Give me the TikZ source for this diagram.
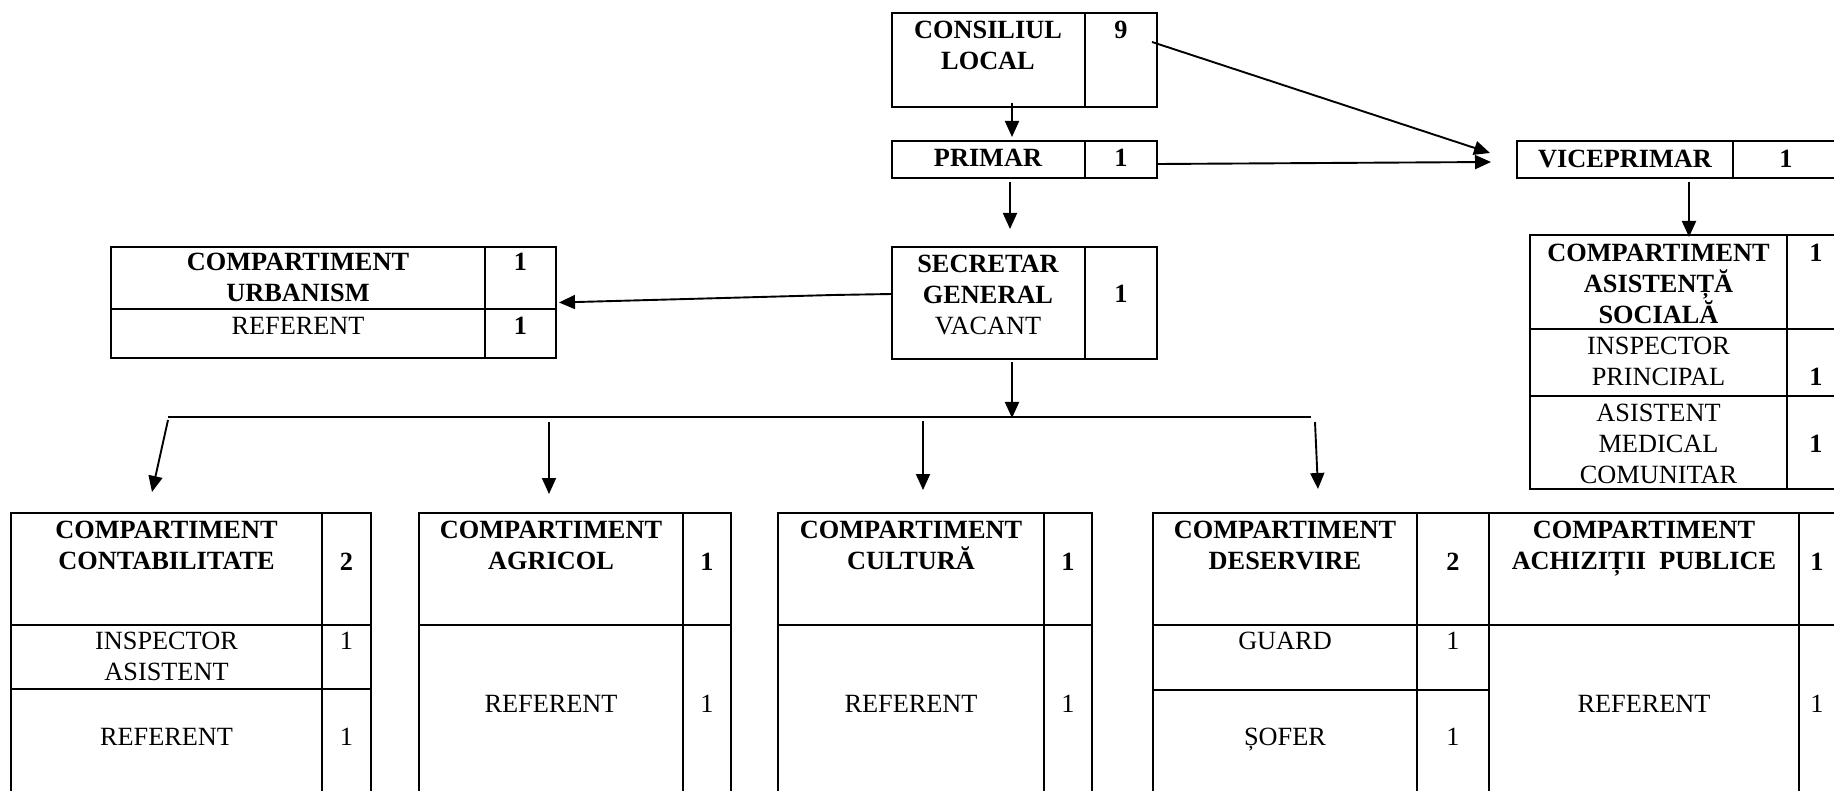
\documentclass[tikz,border=0pt]{standalone}
\usepackage{fontspec}
\setmainfont{Liberation Serif}
\usetikzlibrary{arrows.meta,calc}
\tikzset{
 box/.style={draw, line width=2.1pt, rectangle, anchor=north west, inner sep=0pt, outer sep=0pt},
 hd/.style={font=\fontsize{26.3pt}{30.8pt}\selectfont\bfseries, align=center, inner sep=0pt, anchor=north},
 tx/.style={font=\fontsize{26.3pt}{30.8pt}\selectfont, align=center, inner sep=0pt, anchor=north},
 arr/.style={line width=1.9pt, -{Triangle[length=16pt,width=14pt]}},
 sep/.style={line width=2.1pt},
 busline/.style={line width=1.4pt},
}
\begin{document}
\begin{tikzpicture}[x=1pt,y=-1pt]
\useasboundingbox (0,0) rectangle (1834,791);
\clip (0,0) rectangle (1834,791);

% ---------- boxes ----------
\node[box, minimum width=265pt, minimum height=94pt]  (cons) at (892,13) {};
\node[box, minimum width=265pt, minimum height=37pt]  (prim) at (892,141) {};
\node[box, minimum width=265pt, minimum height=112pt] (secr) at (892,247) {};
\node[box, minimum width=445pt, minimum height=111pt] (urb)  at (111,247) {};
\node[box, minimum width=323pt, minimum height=37pt]  (vice) at (1517,141) {};
\node[box, minimum width=315pt, minimum height=254pt] (asis) at (1530,235) {};
\node[box, minimum width=360pt, minimum height=287pt] (cont) at (11,513) {};
\node[box, minimum width=312pt, minimum height=287pt] (agri) at (419,513) {};
\node[box, minimum width=314pt, minimum height=287pt] (cult) at (778,513) {};
\node[box, minimum width=336pt, minimum height=287pt] (dese) at (1153,513) {};
\node[box, minimum width=351pt, minimum height=287pt] (achi) at (1489,513) {};

% ---------- inner rules ----------
\draw[sep] (1085,13) -- (1085,107);
\draw[sep] (1085,141) -- (1085,178);
\draw[sep] (1085,247) -- (1085,359);
\draw[sep] (485,247) -- (485,358);
\draw[sep] (111,309) -- (556,309);
\draw[sep] (1733,141) -- (1733,178);
\draw[sep] (1787,235) -- (1787,489);
\draw[sep] (1530,329) -- (1845,329);
\draw[sep] (1530,396) -- (1845,396);
\draw[sep] (322,513) -- (322,800);
\draw[sep] (11,625) -- (371,625);
\draw[sep] (11,689) -- (371,689);
\draw[sep] (683,513) -- (683,800);
\draw[sep] (419,625) -- (731,625);
\draw[sep] (1044,513) -- (1044,800);
\draw[sep] (778,625) -- (1092,625);
\draw[sep] (1417,513) -- (1417,800);
\draw[sep] (1153,625) -- (1489,625);
\draw[sep] (1153,690) -- (1489,690);
\draw[sep] (1799,513) -- (1799,800);
\draw[sep] (1489,625) -- (1840,625);

% ---------- texts ----------
\node[hd] (consT) at (988,21) {CONSILIUL\\LOCAL};
\node[hd] (consN) at (1121,21) {9};
\node[hd] (primT) at (988,149) {PRIMAR};
\node[hd] (primN) at (1121,149) {1};
\node[hd] (secrT) at (988,255) {SECRETAR\\GENERAL\\{\mdseries VACANT}};
\node[hd] (secrN) at (1121,285) {1};
\node[hd] (urbT) at (298,253) {COMPARTIMENT\\URBANISM};
\node[hd] (urbN) at (520.5,253) {1};
\node[tx] (urbR) at (298,317) {REFERENT};
\node[hd] (urbRN) at (520.5,317) {1};
\node[hd] (viceT) at (1625,150) {VICEPRIMAR};
\node[hd] (viceN) at (1786,150) {1};
\node[hd] (asisT) at (1658.5,244) {COMPARTIMENT\\ASISTENȚĂ\\SOCIALĂ};
\node[hd] (asisN) at (1816,244) {1};
\node[tx] (asisR1) at (1658.5,337) {INSPECTOR\\PRINCIPAL};
\node[hd] (asisN1) at (1816,368) {1};
\node[tx] (asisR2) at (1658.5,404) {ASISTENT\\MEDICAL\\COMUNITAR};
\node[hd] (asisN2) at (1816,435) {1};

\node[hd] (contT) at (166.5,521) {COMPARTIMENT\\CONTABILITATE};
\node[hd] (contN) at (346.5,553) {2};
\node[tx] (contR1) at (166.5,632) {INSPECTOR\\ASISTENT};
\node[tx] (contN1) at (346.5,632) {1};
\node[tx] (contR2) at (166.5,728) {REFERENT};
\node[tx] (contN2) at (346.5,728) {1};

\node[hd] (agriT) at (551,521) {COMPARTIMENT\\AGRICOL};
\node[hd] (agriN) at (707,553) {1};
\node[tx] (agriR) at (551,695) {REFERENT};
\node[tx] (agriRN) at (707,695) {1};

\node[hd] (cultT) at (911,521) {COMPARTIMENT\\CULTURĂ};
\node[hd] (cultN) at (1068,553) {1};
\node[tx] (cultR) at (911,695) {REFERENT};
\node[tx] (cultRN) at (1068,695) {1};

\node[hd] (deseT) at (1285,521) {COMPARTIMENT\\DESERVIRE};
\node[hd] (deseN) at (1453,553) {2};
\node[tx] (deseR1) at (1285,632) {GUARD};
\node[tx] (deseN1) at (1453,632) {1};
\node[tx] (deseR2) at (1285,728) {ȘOFER};
\node[tx] (deseN2) at (1453,728) {1};

\node[hd] (achiT) at (1644,521) {COMPARTIMENT\\ACHIZIȚII~~PUBLICE};
\node[hd] (achiN) at (1817,553) {1};
\node[tx] (achiR) at (1644,695) {REFERENT};
\node[tx] (achiRN) at (1817,695) {1};

% ---------- connectors ----------
\coordinate (busL) at (168,417);
\coordinate (busR) at (1311,417);
\coordinate (sdrop) at (1012,418);
\coordinate (b1) at (168,420);
\coordinate (b2) at (549,422);
\coordinate (b3) at (923,421);
\coordinate (b4) at (1315,422);

\draw[busline] (busL) -- (busR);

\draw[arr] ([shift={(-12.5pt,4pt)}]cons.south) -- ([shift={(-12.5pt,4pt)}]prim.north);
\draw[arr] ([shift={(-14.5pt,-4pt)}]prim.south) -- ([shift={(-14.5pt,18pt)}]secr.north);
\draw[arr] ([shift={(-12.5pt,-3pt)}]secr.south) -- (sdrop);
\draw[arr] ([yshift=9pt]secr.west) -- ([shift={(-59pt,8pt)}]secr.west) -- ([xshift=3pt]urb.east);
\draw[arr] ([shift={(-5pt,-29pt)}]cons.north east) -- ([shift={(-27pt,6.5pt)}]vice.west);
\draw[arr] ([shift={(1pt,-4.5pt)}]prim.east) -- ([shift={(-26pt,-2.5pt)}]vice.west);
\draw[arr] ([shift={(10.5pt,-4pt)}]vice.south) -- ([shift={(1.5pt,-2pt)}]asis.north);

\draw[arr] (b1) -- ([shift={(-39pt,21pt)}]cont.north);
\draw[arr] (b2) -- ([shift={(-26pt,19pt)}]agri.north);
\draw[arr] (b3) -- ([shift={(-12pt,23pt)}]cult.north);
\draw[arr] (b4) -- ([shift={(-3pt,24pt)}]dese.north);
\end{tikzpicture}
\end{document}
